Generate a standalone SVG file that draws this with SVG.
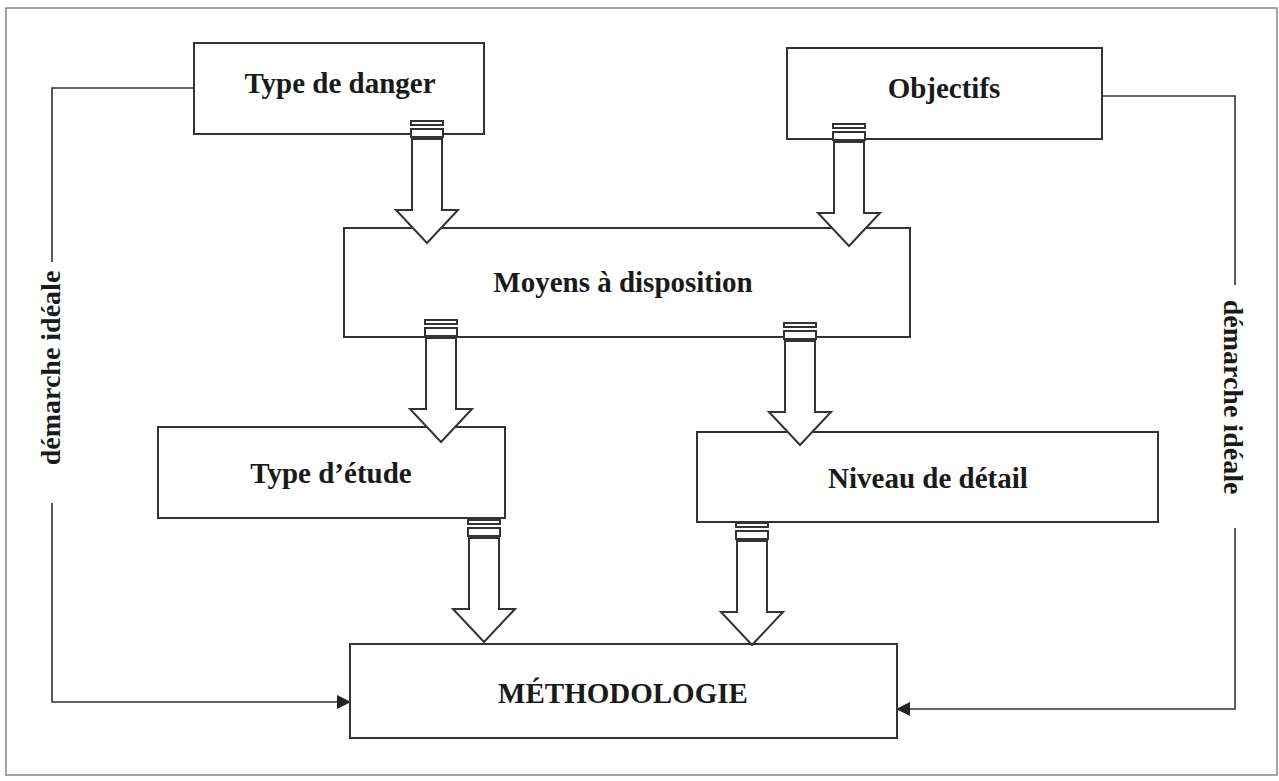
<svg xmlns="http://www.w3.org/2000/svg" width="1279" height="781" viewBox="0 0 1279 781">
<style>
.box{fill:#fff;stroke:#333;stroke-width:2}
.lbl{font-family:"Liberation Serif","Times New Roman",serif;font-weight:bold;font-size:29px;fill:#1a1a1a;text-anchor:middle}
.side{font-family:"Liberation Serif","Times New Roman",serif;font-weight:bold;font-size:28px;fill:#1a1a1a;text-anchor:middle}
.conn{fill:none;stroke:#333;stroke-width:1.6}
.arr{fill:#fff;stroke:#333;stroke-width:2}
</style>
<defs>
<g id="bigArrow">
<rect class="arr" x="-16" y="0" width="32" height="4"/>
<rect class="arr" x="-16" y="8" width="32" height="8"/>
<path class="arr" d="M-15 18 V89 H-31 L0 122 L31 89 H15 V18 Z"/>
</g>
<marker id="tri" viewBox="0 0 10 10" refX="10" refY="5" markerWidth="15" markerHeight="14" markerUnits="userSpaceOnUse" orient="auto">
<path d="M0 0 L10 5 L0 10 Z" fill="#222"/>
</marker>
</defs>
<rect x="6" y="8" width="1271" height="767" fill="none" stroke="#888" stroke-width="1.5"/>
<g id="connectors">
<polyline class="conn" points="194,88 52,88 52,262"/>
<polyline class="conn" points="52,503 52,702 351,702" marker-end="url(#tri)"/>
<polyline class="conn" points="1102,96 1235,96 1235,285"/>
<polyline class="conn" points="1235,528 1235,709 896,709" marker-end="url(#tri)"/>
</g>
<g id="node-danger">
<rect class="box" x="194" y="43" width="290" height="91"/>
<text class="lbl" x="340" y="93">Type de danger</text>
</g>
<g id="node-objectifs">
<rect class="box" x="787" y="48" width="315" height="91"/>
<text class="lbl" x="944" y="98">Objectifs</text>
</g>
<g id="node-moyens">
<rect class="box" x="344" y="228" width="566" height="109"/>
<text class="lbl" x="623" y="292">Moyens à disposition</text>
</g>
<g id="node-etude">
<rect class="box" x="158" y="427" width="347" height="91"/>
<text class="lbl" x="331" y="483">Type d’étude</text>
</g>
<g id="node-niveau">
<rect class="box" x="697" y="432" width="461" height="90"/>
<text class="lbl" x="928" y="488">Niveau de détail</text>
</g>
<g id="node-methodologie">
<rect class="box" x="350" y="644" width="547" height="94"/>
<text class="lbl" x="623" y="703">MÉTHODOLOGIE</text>
</g>
<g id="arrows">
<use href="#bigArrow" transform="translate(427,121)"/>
<use href="#bigArrow" transform="translate(849,124)"/>
<use href="#bigArrow" transform="translate(441,320)"/>
<use href="#bigArrow" transform="translate(800,323)"/>
<use href="#bigArrow" transform="translate(484,520)"/>
<use href="#bigArrow" transform="translate(752,523)"/>
</g>
<g id="side-labels">
<text class="side" transform="translate(60,368) rotate(-90)">démarche idéale</text>
<text class="side" transform="translate(1224,397) rotate(90)">démarche idéale</text>
</g>
</svg>
